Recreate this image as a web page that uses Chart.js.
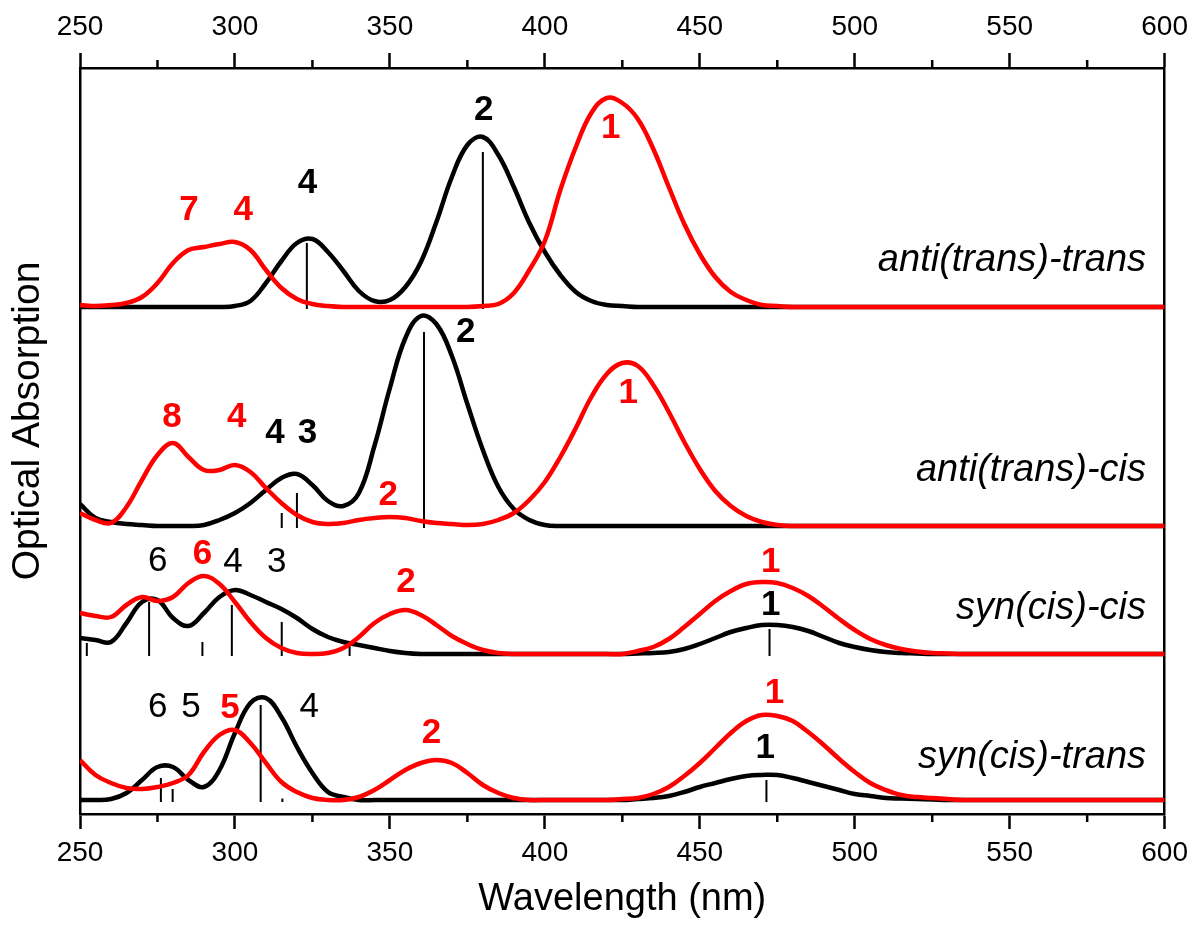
<!DOCTYPE html>
<html>
<head>
<meta charset="utf-8">
<title>Optical absorption spectra</title>
<script src="https://cdn.jsdelivr.net/npm/chart.js@4.4.0/dist/chart.umd.min.js"></script>
<style>
  body { margin: 0; background: #fff; }
  canvas { display: block; }
</style>
</head>
<body>
<canvas id="spectra" width="1197" height="929"></canvas>
<script>
// wavelength grid (nm)
const wavelength = [
  250, 255, 260, 265, 270, 275, 280, 285, 290, 295,
  300, 305, 310, 315, 320, 325, 330, 335, 340, 345,
  350, 355, 360, 365, 370, 375, 380, 385, 390, 395,
  400, 405, 410, 415, 420, 425, 430, 435, 440, 445,
  450, 455, 460, 465, 470, 475, 480, 485, 490, 495,
  500, 505, 510, 515, 520, 525, 530, 535, 540,
  550, 560, 570, 580, 590, 600
];

// absorption above each panel's baseline (arb. units)
const antiTransTransBlack = [
  0, 0, 0, 0, 0, 0, 0, 0, 0, 0,
  0.1, 0.6, 2.4, 4.6, 6.4, 6.8, 5.5, 3.6, 1.6, 0.6,
  0.7, 2.0, 4.5, 8.5, 13.0, 16.2, 17.0, 15.2, 12.0, 8.4,
  5.5, 3.2, 1.5, 0.6, 0.2, 0.1, 0, 0, 0, 0,
  0, 0, 0, 0, 0, 0, 0, 0, 0, 0,
  0, 0, 0, 0, 0, 0, 0, 0, 0,
  0, 0, 0, 0, 0, 0
];
const antiTransTransRed = [
  0.2, 0.1, 0.2, 0.4, 1.0, 2.4, 4.4, 5.7, 6.0, 6.3,
  6.5, 5.7, 3.7, 1.9, 0.8, 0.3, 0.1, 0, 0, 0,
  0, 0, 0, 0, 0, 0, 0.1, 0.3, 1.4, 3.7,
  6.6, 11.7, 16.0, 19.4, 20.9, 20.4, 18.8, 15.8, 12.0, 8.3,
  5.3, 3.0, 1.5, 0.7, 0.2, 0.1, 0, 0, 0, 0,
  0, 0, 0, 0, 0, 0, 0, 0, 0,
  0, 0, 0, 0, 0, 0
];
const antiTransCisBlack = [
  2.2, 0.8, 0.4, 0.2, 0.1, 0, 0, 0, 0.1, 0.6,
  1.3, 2.3, 3.6, 4.8, 5.2, 4.1, 2.5, 2.0, 3.3, 8.0,
  13.8, 18.8, 21.0, 20.2, 17.0, 12.2, 7.6, 3.9, 1.7, 0.6,
  0.1, 0, 0, 0, 0, 0, 0, 0, 0, 0,
  0, 0, 0, 0, 0, 0, 0, 0, 0, 0,
  0, 0, 0, 0, 0, 0, 0, 0, 0,
  0, 0, 0, 0, 0, 0
];
const antiTransCisRed = [
  1.3, 0.6, 0.3, 1.9, 4.6, 7.1, 8.3, 6.9, 5.6, 5.6,
  6.1, 5.4, 3.8, 2.3, 1.1, 0.4, 0.2, 0.3, 0.6, 0.8,
  0.9, 0.8, 0.5, 0.3, 0.2, 0.1, 0.2, 0.6, 1.3, 2.6,
  4.4, 6.9, 9.8, 12.9, 15.2, 16.3, 16.0, 14.1, 11.4, 8.4,
  5.7, 3.5, 2.0, 1.0, 0.4, 0.1, 0, 0, 0, 0,
  0, 0, 0, 0, 0, 0, 0, 0, 0,
  0, 0, 0, 0, 0, 0
];
const synCisCisBlack = [
  1.6, 1.4, 1.2, 3.1, 5.2, 5.4, 3.6, 2.8, 4.1, 5.7,
  6.4, 5.9, 5.2, 4.5, 3.6, 2.5, 1.7, 1.2, 0.9, 0.6,
  0.3, 0.1, 0, 0, 0, 0, 0, 0, 0, 0,
  0, 0, 0, 0, 0, 0, 0.05, 0.1, 0.2, 0.5,
  1.0, 1.6, 2.2, 2.6, 2.9, 2.9, 2.7, 2.3, 1.7, 1.1,
  0.7, 0.4, 0.2, 0.1, 0.05, 0, 0, 0, 0,
  0, 0, 0, 0, 0, 0
];
const synCisCisRed = [
  4.1, 3.8, 3.7, 4.9, 5.7, 5.3, 5.7, 7.1, 7.8, 7.0,
  5.2, 3.2, 1.6, 0.6, 0.1, 0, 0.1, 0.6, 1.7, 3.1,
  4.0, 4.4, 3.9, 2.9, 1.8, 1.0, 0.4, 0.1, 0, 0,
  0, 0, 0, 0, 0, 0, 0.3, 0.7, 1.5, 2.7,
  4.0, 5.3, 6.3, 7.0, 7.2, 7.1, 6.6, 5.8, 4.7, 3.5,
  2.4, 1.5, 0.9, 0.5, 0.25, 0.1, 0.05, 0, 0,
  0, 0, 0, 0, 0, 0
];
const synCisTransBlack = [
  0, 0, 0.1, 0.7, 2.0, 3.3, 3.3, 2.0, 1.3, 3.0,
  6.7, 9.7, 10.2, 8.3, 5.3, 2.7, 0.8, 0.3, 0, 0,
  0, 0, 0, 0, 0, 0, 0, 0, 0, 0,
  0, 0, 0, 0, 0, 0, 0.1, 0.2, 0.4, 0.8,
  1.3, 1.7, 2.1, 2.4, 2.5, 2.5, 2.2, 1.8, 1.4, 1.0,
  0.6, 0.4, 0.2, 0.15, 0.1, 0.05, 0, 0, 0,
  0, 0, 0, 0, 0, 0
];
const synCisTransRed = [
  4.0, 2.5, 1.7, 1.2, 1.1, 1.3, 1.7, 2.5, 4.8, 6.5,
  7.0, 5.7, 3.7, 1.8, 0.8, 0.2, 0, 0, 0.3, 1.0,
  2.0, 3.0, 3.7, 4.0, 3.7, 2.7, 1.5, 0.7, 0.2, 0,
  0, 0, 0, 0, 0, 0.1, 0.2, 0.6, 1.3, 2.4,
  3.7, 5.2, 6.7, 7.9, 8.5, 8.4, 7.9, 6.8, 5.5, 4.1,
  2.8, 1.7, 1.0, 0.5, 0.3, 0.2, 0.1, 0, 0,
  0, 0, 0, 0, 0, 0
];

// calculated transitions (stick positions in nm, heights)
const antiTransTransSticks = [323.2, 380.0];
const antiTransTransStickH = [6.4, 15.5];
const antiTransCisSticks = [315.1, 320.0, 361.0];
const antiTransCisStickH = [1.3, 3.3, 19.4];
const synCisCisSticks = [252.2, 272.3, 289.5, 299.0, 315.1, 337.0, 472.5];
const synCisCisStickH = [1.1, 5.2, 1.2, 4.9, 3.2, 1.2, 2.5];
const synCisTransSticks = [276.1, 279.9, 308.3, 315.3, 471.5];
const synCisTransStickH = [2.2, 1.1, 9.5, 0.15, 2.0];

const panelNames = ['anti(trans)-trans', 'anti(trans)-cis', 'syn(cis)-cis', 'syn(cis)-trans'];
const panelOffsets = [50.7, 28.8, 16.0, 1.4];

const xTicksMinor = [275, 325, 375, 425, 475, 525, 575];

// text placed on the plot (nm, level)
const RED = '#ff0000';
const BLACK = '#000000';
const peakLabels = [
  ['7', RED, 'bold', 285.2, 60.4], ['4', RED, 'bold', 302.7, 60.4],
  ['4', BLACK, 'bold', 323.4, 63.1], ['2', BLACK, 'bold', 380.3, 70.4],
  ['1', RED, 'bold', 421.3, 68.6],
  ['2', BLACK, 'bold', 374.5, 48.2], ['8', RED, 'bold', 279.7, 39.7],
  ['4', RED, 'bold', 300.6, 39.7], ['4', BLACK, 'bold', 312.9, 38.1],
  ['3', BLACK, 'bold', 323.4, 38.1], ['2', RED, 'bold', 349.5, 31.9],
  ['1', RED, 'bold', 426.9, 42.1],
  ['6', BLACK, 'normal', 275.1, 25.3], ['6', RED, 'bold', 289.5, 26.0],
  ['4', BLACK, 'normal', 299.4, 25.2], ['3', BLACK, 'normal', 313.5, 25.2],
  ['2', RED, 'bold', 355.2, 23.2], ['1', RED, 'bold', 472.9, 25.2],
  ['1', BLACK, 'bold', 472.9, 20.9],
  ['6', BLACK, 'normal', 275.1, 10.7], ['5', BLACK, 'normal', 285.8, 10.7],
  ['5', RED, 'bold', 298.4, 10.6], ['4', BLACK, 'normal', 324.0, 10.7],
  ['2', RED, 'bold', 363.4, 8.1], ['1', RED, 'bold', 474.1, 12.1],
  ['1', BLACK, 'bold', 471.1, 6.6]
];
const panelNameLevels = [55.4, 34.4, 20.6, 5.7];
const panelNameRight = 594;

const FONT = '"Liberation Sans", Arial, sans-serif';

function shifted(values, offset) {
  return wavelength.map((w, i) => ({ x: w, y: values[i] + offset }));
}
function sticks(pos, h, offset) {
  const pts = [];
  pos.forEach((p, i) => {
    pts.push({ x: p, y: offset - 0.2 }, { x: p, y: offset + h[i] }, { x: p, y: null });
  });
  return pts;
}

const curves = [
  [antiTransTransBlack, antiTransTransRed],
  [antiTransCisBlack, antiTransCisRed],
  [synCisCisBlack, synCisCisRed],
  [synCisTransBlack, synCisTransRed]
];
const stickSets = [
  [antiTransTransSticks, antiTransTransStickH],
  [antiTransCisSticks, antiTransCisStickH],
  [synCisCisSticks, synCisCisStickH],
  [synCisTransSticks, synCisTransStickH]
];

const datasets = [];
curves.forEach((pair, k) => {
  datasets.push({
    data: shifted(pair[1], panelOffsets[k]), borderColor: RED, borderWidth: 4.5,
    pointRadius: 0, tension: 0.4, order: 0
  });
  datasets.push({
    data: shifted(pair[0], panelOffsets[k]), borderColor: BLACK, borderWidth: 4.5,
    pointRadius: 0, tension: 0.4, order: 1
  });
  datasets.push({
    data: sticks(stickSets[k][0], stickSets[k][1], panelOffsets[k]), borderColor: BLACK,
    borderWidth: 2, pointRadius: 0, tension: 0, spanGaps: false, order: 2
  });
});

const overlay = {
  id: 'overlay',
  afterDraw(chart) {
    const { ctx, chartArea } = chart;
    const xs = chart.scales.x, ys = chart.scales.y;
    ctx.save();
    ctx.strokeStyle = BLACK;
    ctx.lineWidth = 2.5;
    xTicksMinor.forEach(v => {
      const px = xs.getPixelForValue(v);
      ctx.beginPath();
      ctx.moveTo(px, chartArea.bottom);
      ctx.lineTo(px, chartArea.bottom + 8);
      ctx.moveTo(px, chartArea.top);
      ctx.lineTo(px, chartArea.top - 8);
      ctx.stroke();
    });
    ctx.textAlign = 'center';
    ctx.textBaseline = 'middle';
    peakLabels.forEach(([t, c, w, nm, lv]) => {
      ctx.fillStyle = c;
      ctx.font = w + ' 35px ' + FONT;
      ctx.fillText(t, xs.getPixelForValue(nm), ys.getPixelForValue(lv));
    });
    ctx.textAlign = 'right';
    ctx.fillStyle = BLACK;
    ctx.font = 'italic 38px ' + FONT;
    panelNames.forEach((n, k) => {
      ctx.fillText(n, xs.getPixelForValue(panelNameRight), ys.getPixelForValue(panelNameLevels[k]));
    });
    // y axis title
    ctx.translate(28, 421);
    ctx.rotate(-Math.PI / 2);
    ctx.textAlign = 'center';
    ctx.font = '39px ' + FONT;
    ctx.fillText('Optical Absorption', 0, 0);
    ctx.restore();
  }
};

const axisX = (position, height, pad) => ({
  type: 'linear', position, min: 250, max: 600,
  ticks: { stepSize: 50, color: BLACK, font: { family: FONT, size: 28 }, padding: pad, maxRotation: 0 },
  grid: { drawOnChartArea: false, tickLength: 15, tickWidth: 2.5, tickColor: BLACK },
  border: { color: BLACK, width: 2.5 },
  afterFit: s => { s.height = height; }
});
const axisY = (position, width) => ({
  type: 'linear', position, min: 0, max: 74.6,
  ticks: { display: false },
  grid: { drawOnChartArea: false, drawTicks: false },
  border: { color: BLACK, width: 2.5 },
  afterFit: s => { s.width = width; }
});

const xBottom = axisX('bottom', 115, 7);
xBottom.title = { display: true, text: 'Wavelength (nm)', color: BLACK,
  font: { family: FONT, size: 38 }, padding: { top: 0, bottom: 7 } };

new Chart(document.getElementById('spectra'), {
  type: 'line',
  data: { datasets },
  options: {
    responsive: false,
    animation: false,
    devicePixelRatio: 1,
    layout: { padding: 0 },
    plugins: { legend: { display: false }, tooltip: { enabled: false } },
    scales: {
      x: xBottom,
      x2: axisX('top', 68, 9),
      y: axisY('left', 80),
      y2: axisY('right', 29)
    }
  },
  plugins: [overlay]
});
</script>
</body>
</html>
